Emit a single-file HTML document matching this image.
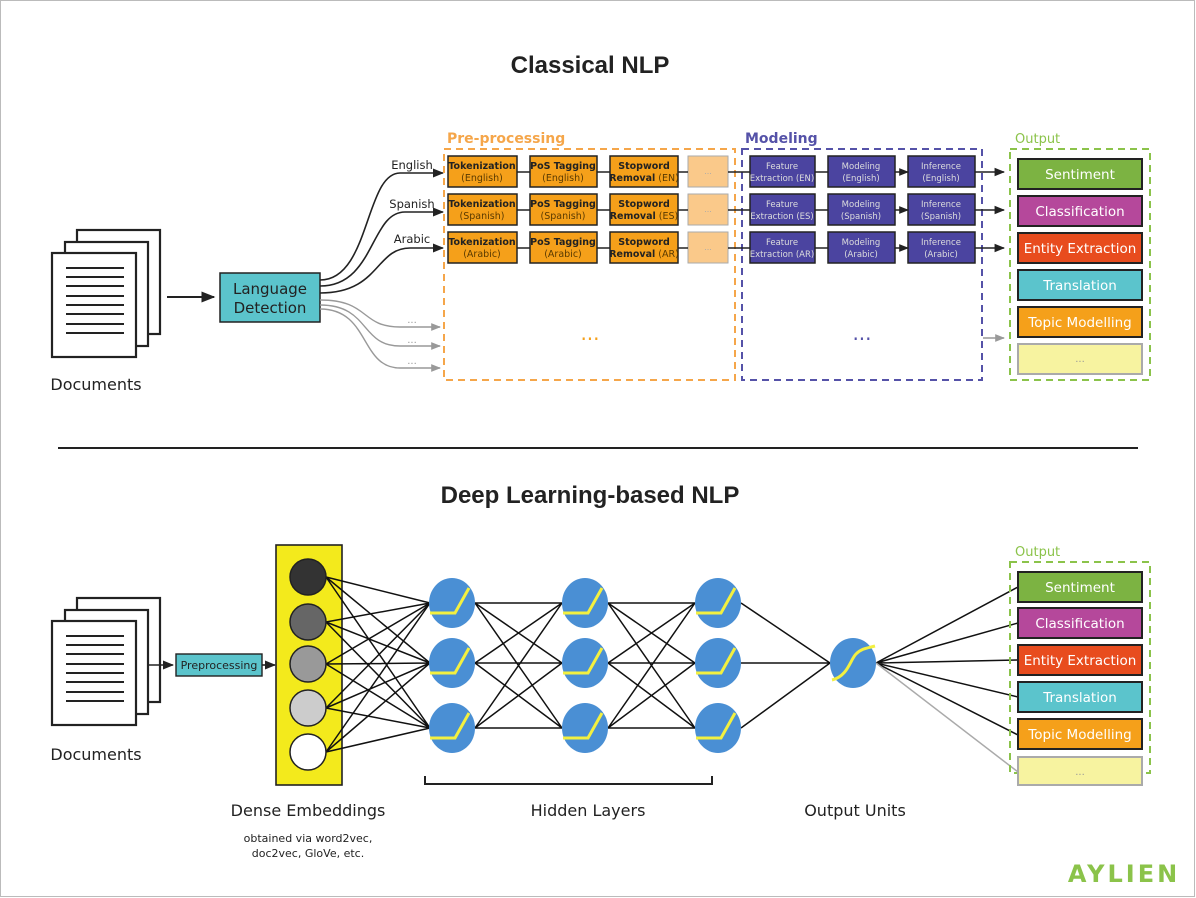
<!DOCTYPE html>
<html><head><meta charset="utf-8"><style>
html,body{margin:0;padding:0;background:#fff}
svg{display:block}
text{font-family:"DejaVu Sans","Liberation Sans",sans-serif}
.t{font-family:"Liberation Sans",sans-serif;font-weight:bold;font-size:24px;fill:#222}
.pp{fill:#f5a01a;stroke:#222;stroke-width:1.5}
.md{fill:#4b44a0;stroke:#222;stroke-width:1.5}
.s{font-size:9.5px;text-anchor:middle;font-family:"Liberation Sans",sans-serif}
.o{font-size:13.5px;text-anchor:middle;fill:#fff}
.n{fill:#4a8fd4}
.y{fill:none;stroke:#f3f040;stroke-width:3}
</style></head><body>
<svg width="1196" height="898" viewBox="0 0 1196 898" xmlns="http://www.w3.org/2000/svg">
<defs>
<marker id="a" viewBox="0 0 10 10" refX="9" refY="5" markerWidth="7" markerHeight="7" orient="auto"><path d="M0,1 L10,5 L0,9z" fill="#222"/></marker>
<marker id="g" viewBox="0 0 10 10" refX="9" refY="5" markerWidth="7" markerHeight="7" orient="auto"><path d="M0,1 L10,5 L0,9z" fill="#999"/></marker>
</defs>
<rect x="0.5" y="0.5" width="1194" height="896" fill="#fff" stroke="#bbb"/>
<text x="590" y="73" text-anchor="middle" class="t">Classical NLP</text>

<g fill="#fff" stroke="#222" stroke-width="2.2">
<rect x="77" y="230" width="83" height="104"/>
<rect x="65" y="242" width="83" height="104"/>
<rect x="52" y="253" width="84" height="104"/>
</g>
<g stroke="#222" stroke-width="2">
<path d="M66 268H124M66 277H124M66 286H124M66 296H124M66 305H124M66 314H124M66 324H124M66 333H124"/>
</g>
<text x="96" y="390" font-size="16" text-anchor="middle" fill="#222">Documents</text>
<line x1="167" y1="297" x2="214" y2="297" stroke="#222" stroke-width="2" marker-end="url(#a)"/>
<rect x="220" y="273" width="100" height="49" fill="#5bc4cc" stroke="#222" stroke-width="1.5"/>
<text x="270" y="294" font-size="15" text-anchor="middle" fill="#222">Language</text>
<text x="270" y="313" font-size="15" text-anchor="middle" fill="#222">Detection</text>

<g fill="none" stroke="#222" stroke-width="1.6">
<path d="M320 280 C370 280 365 173 400 173 L443 173" marker-end="url(#a)"/>
<path d="M320 286 C375 286 370 212 405 212 L443 212" marker-end="url(#a)"/>
<path d="M320 293 C380 293 375 248 410 248 L443 248" marker-end="url(#a)"/>
</g>
<g fill="none" stroke="#999" stroke-width="1.4">
<path d="M320 300 C370 300 360 327 400 327 L440 327" marker-end="url(#g)"/>
<path d="M320 305 C370 305 360 346 400 346 L440 346" marker-end="url(#g)"/>
<path d="M320 309 C370 309 360 368 400 368 L440 368" marker-end="url(#g)"/>
</g>
<g font-size="11.5" fill="#222" text-anchor="middle">
<text x="412" y="169">English</text><text x="412" y="208">Spanish</text><text x="412" y="243">Arabic</text>
</g>
<g font-size="10" fill="#999" text-anchor="middle"><text x="412" y="323">...</text><text x="412" y="343">...</text><text x="412" y="364">...</text></g>

<rect x="444" y="149" width="291" height="231" fill="none" stroke="#f5a64a" stroke-width="2" stroke-dasharray="7,5"/>
<rect x="742" y="149" width="240" height="231" fill="none" stroke="#5552a8" stroke-width="2" stroke-dasharray="7,5"/>
<rect x="1010" y="149" width="140" height="231" fill="none" stroke="#8bc34a" stroke-width="2" stroke-dasharray="7,5"/>
<text x="447" y="143" font-size="14" fill="#f5a64a" font-weight="bold">Pre-processing</text>
<text x="745" y="143" font-size="14" fill="#5552a8" font-weight="bold">Modeling</text>
<text x="1015" y="143" font-size="13" fill="#8bc34a">Output</text>
<text x="590" y="340" font-size="20" fill="#f5a01a" text-anchor="middle">...</text>
<text x="862" y="340" font-size="20" fill="#5552a8" text-anchor="middle">...</text>

<g>
<g id="r1">
<rect class="pp" x="448" y="156" width="69" height="31"/>
<rect class="pp" x="530" y="156" width="67" height="31"/>
<rect class="pp" x="610" y="156" width="68" height="31"/>
<rect x="688" y="156" width="40" height="31" fill="#fac98a" stroke="#aaa"/>
<rect class="md" x="750" y="156" width="65" height="31"/>
<rect class="md" x="828" y="156" width="67" height="31"/>
<rect class="md" x="908" y="156" width="67" height="31"/>
</g>
<use href="#r1" y="38"/><use href="#r1" y="76"/>
</g>
<g stroke="#222" stroke-width="1.4">
<path d="M517 172H530M597 172H610M678 172H688M728 172H750M815 172H828M895 172H908" marker-end="url(#a)"/>
<path d="M517 210H530M597 210H610M678 210H688M728 210H750M815 210H828M895 210H908" marker-end="url(#a)"/>
<path d="M517 248H530M597 248H610M678 248H688M728 248H750M815 248H828M895 248H908" marker-end="url(#a)"/>
</g>
<g stroke="#222" stroke-width="1.5">
<line x1="975" y1="172" x2="1004" y2="172" marker-end="url(#a)"/>
<line x1="975" y1="210" x2="1004" y2="210" marker-end="url(#a)"/>
<line x1="975" y1="248" x2="1004" y2="248" marker-end="url(#a)"/>
</g>
<line x1="983" y1="338" x2="1004" y2="338" stroke="#999" stroke-width="1.4" marker-end="url(#g)"/>
<g class="s" font-weight="bold" fill="#222">
<text x="482" y="169">Tokenization</text><text x="563" y="169">PoS Tagging</text><text x="644" y="169">Stopword</text>
<text x="482" y="207">Tokenization</text><text x="563" y="207">PoS Tagging</text><text x="644" y="207">Stopword</text>
<text x="482" y="245">Tokenization</text><text x="563" y="245">PoS Tagging</text><text x="644" y="245">Stopword</text>
</g>
<g class="s" fill="#5a3a00">
<text x="482" y="181">(English)</text><text x="563" y="181">(English)</text><text x="644" y="181"><tspan font-weight="bold" fill="#222">Removal</tspan> (EN)</text>
<text x="482" y="219">(Spanish)</text><text x="563" y="219">(Spanish)</text><text x="644" y="219"><tspan font-weight="bold" fill="#222">Removal</tspan> (ES)</text>
<text x="482" y="257">(Arabic)</text><text x="563" y="257">(Arabic)</text><text x="644" y="257"><tspan font-weight="bold" fill="#222">Removal</tspan> (AR)</text>
</g>
<g class="s" fill="#ddd" style="font-size:8.5px">
<text x="782" y="169">Feature</text><text x="861" y="169">Modeling</text><text x="941" y="169">Inference</text>
<text x="782" y="181">Extraction (EN)</text><text x="861" y="181">(English)</text><text x="941" y="181">(English)</text>
<text x="782" y="207">Feature</text><text x="861" y="207">Modeling</text><text x="941" y="207">Inference</text>
<text x="782" y="219">Extraction (ES)</text><text x="861" y="219">(Spanish)</text><text x="941" y="219">(Spanish)</text>
<text x="782" y="245">Feature</text><text x="861" y="245">Modeling</text><text x="941" y="245">Inference</text>
<text x="782" y="257">Extraction (AR)</text><text x="861" y="257">(Arabic)</text><text x="941" y="257">(Arabic)</text>
</g>
<g fill="#aaa" font-size="8" text-anchor="middle"><text x="708" y="174">...</text><text x="708" y="212">...</text><text x="708" y="250">...</text></g>

<g stroke="#222" stroke-width="2">
<rect x="1018" y="159" width="124" height="30" fill="#7cb342"/>
<rect x="1018" y="196" width="124" height="30" fill="#b5489b"/>
<rect x="1018" y="233" width="124" height="30" fill="#e84c1e"/>
<rect x="1018" y="270" width="124" height="30" fill="#5bc4cc"/>
<rect x="1018" y="307" width="124" height="30" fill="#f5a01a"/>
<rect x="1018" y="344" width="124" height="30" fill="#f7f3a0" stroke="#aaa"/>
</g>
<g class="o"><text x="1080" y="179">Sentiment</text><text x="1080" y="216">Classification</text><text x="1080" y="253">Entity Extraction</text><text x="1080" y="290">Translation</text><text x="1080" y="327">Topic Modelling</text></g>
<text x="1080" y="362" font-size="10" fill="#999" text-anchor="middle">...</text>

<line x1="58" y1="448" x2="1138" y2="448" stroke="#222" stroke-width="2"/>
<text x="590" y="503" text-anchor="middle" class="t">Deep Learning-based NLP</text>

<g fill="#fff" stroke="#222" stroke-width="2.2">
<rect x="77" y="598" width="83" height="104"/>
<rect x="65" y="610" width="83" height="104"/>
<rect x="52" y="621" width="84" height="104"/>
</g>
<g stroke="#222" stroke-width="2">
<path d="M66 636H124M66 645H124M66 654H124M66 664H124M66 673H124M66 682H124M66 692H124M66 701H124"/>
</g>
<text x="96" y="760" font-size="16" text-anchor="middle" fill="#222">Documents</text>
<line x1="148" y1="665" x2="173" y2="665" stroke="#222" stroke-width="1.6" marker-end="url(#a)"/>
<rect x="176" y="654" width="86" height="22" fill="#5bc4cc" stroke="#222" stroke-width="1.4"/>
<text x="219" y="669" font-size="11" text-anchor="middle" fill="#222">Preprocessing</text>
<line x1="262" y1="665" x2="275" y2="665" stroke="#222" stroke-width="1.6" marker-end="url(#a)"/>

<rect x="276" y="545" width="66" height="240" fill="#f3ea1c" stroke="#222" stroke-width="1.6"/>

<g stroke="#111" stroke-width="1.5">
<path d="M326 577L430 603M326 577L430 663M326 577L430 728M326 622L430 603M326 622L430 663M326 622L430 728M326 664L430 603M326 664L430 663M326 664L430 728M326 708L430 603M326 708L430 663M326 708L430 728M326 752L430 603M326 752L430 663M326 752L430 728"/>
<path d="M475 603L562 603M475 603L562 663M475 603L562 728M475 663L562 603M475 663L562 663M475 663L562 728M475 728L562 603M475 728L562 663M475 728L562 728"/>
<path d="M608 603L695 603M608 603L695 663M608 603L695 728M608 663L695 603M608 663L695 663M608 663L695 728M608 728L695 603M608 728L695 663M608 728L695 728"/>
<path d="M741 603L830 663M741 663L830 663M741 728L830 663"/>
<path d="M876 663L1018 587M876 663L1018 623M876 663L1018 660M876 663L1018 697M876 663L1018 735"/>
</g>
<line x1="876" y1="663" x2="1018" y2="772" stroke="#aaa" stroke-width="1.5"/>

<g stroke="#222" stroke-width="1.5">
<circle cx="308" cy="577" r="18" fill="#333"/>
<circle cx="308" cy="622" r="18" fill="#666"/>
<circle cx="308" cy="664" r="18" fill="#999"/>
<circle cx="308" cy="708" r="18" fill="#ccc"/>
<circle cx="308" cy="752" r="18" fill="#fff"/>
</g>

<g id="nd">
<ellipse class="n" cx="452" cy="603" rx="23" ry="25"/>
<path class="y" d="M430 613H455L469 588"/>
</g>
<use href="#nd" y="60"/><use href="#nd" y="125"/>
<use href="#nd" x="133"/><use href="#nd" x="133" y="60"/><use href="#nd" x="133" y="125"/>
<use href="#nd" x="266"/><use href="#nd" x="266" y="60"/><use href="#nd" x="266" y="125"/>
<ellipse class="n" cx="853" cy="663" rx="23" ry="25"/>
<path class="y" d="M832 680C848 676 850 660 856 654S868 648 875 646"/>

<path d="M425 776V784H712V776" fill="none" stroke="#222" stroke-width="2"/>
<g font-size="16" fill="#222" text-anchor="middle">
<text x="308" y="816">Dense Embeddings</text>
<text x="588" y="816">Hidden Layers</text>
<text x="855" y="816">Output Units</text>
</g>
<text x="308" y="842" font-size="11" fill="#222" text-anchor="middle">obtained via word2vec,</text>
<text x="308" y="857" font-size="11" fill="#222" text-anchor="middle">doc2vec, GloVe, etc.</text>

<rect x="1010" y="562" width="140" height="211" fill="none" stroke="#8bc34a" stroke-width="2" stroke-dasharray="7,5"/>
<text x="1015" y="556" font-size="13" fill="#8bc34a">Output</text>
<g stroke="#222" stroke-width="2">
<rect x="1018" y="572" width="124" height="30" fill="#7cb342"/>
<rect x="1018" y="608" width="124" height="30" fill="#b5489b"/>
<rect x="1018" y="645" width="124" height="30" fill="#e84c1e"/>
<rect x="1018" y="682" width="124" height="30" fill="#5bc4cc"/>
<rect x="1018" y="719" width="124" height="30" fill="#f5a01a"/>
<rect x="1018" y="757" width="124" height="28" fill="#f7f3a0" stroke="#aaa"/>
</g>
<g class="o"><text x="1080" y="592">Sentiment</text><text x="1080" y="628">Classification</text><text x="1080" y="665">Entity Extraction</text><text x="1080" y="702">Translation</text><text x="1080" y="739">Topic Modelling</text></g>
<text x="1080" y="775" font-size="10" fill="#999" text-anchor="middle">...</text>

<text x="1124" y="882" font-size="24" font-weight="bold" fill="#8bc34a" text-anchor="middle" letter-spacing="3" font-family="Liberation Mono,monospace">AYLIEN</text>
</svg>
</body></html>
